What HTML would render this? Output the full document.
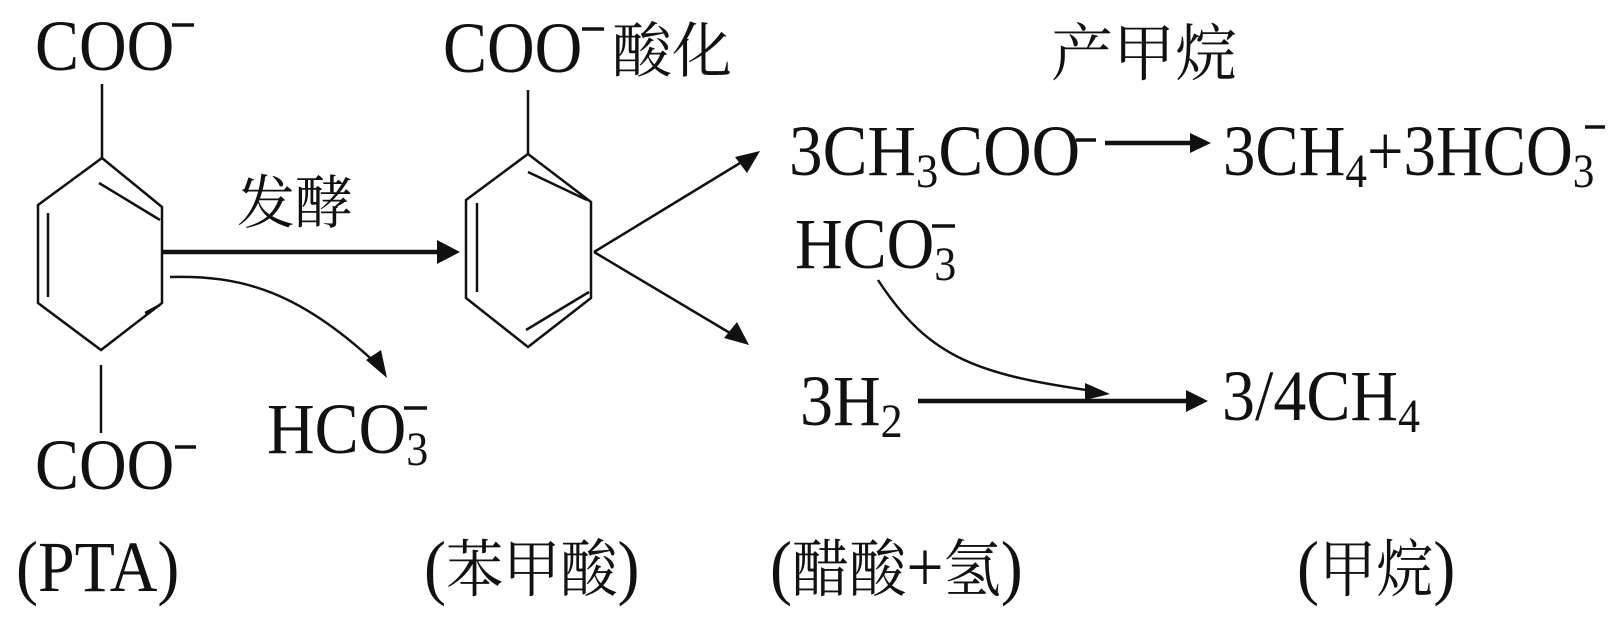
<!DOCTYPE html>
<html><head><meta charset="utf-8"><style>
html,body{margin:0;padding:0;background:#fff;}
svg{display:block;}
text{font-family:"Liberation Serif","Noto Serif CJK SC",serif;fill:#111;}
.c{font-family:"Noto Serif CJK SC","Noto Sans CJK SC",serif;}
</style></head><body>
<svg width="1620" height="625" viewBox="0 0 1620 625" xmlns="http://www.w3.org/2000/svg">
<g stroke="#111" stroke-width="2.5" fill="none">
<polygon points="102,158 162,207 162,303 101,350 38,303 38,205"/>
<line x1="99" y1="183" x2="160" y2="220"/>
<line x1="48" y1="213" x2="48" y2="297"/>
<line x1="145" y1="313" x2="160" y2="305"/>
<line x1="102" y1="84" x2="102" y2="158"/>
<line x1="101" y1="365" x2="101" y2="433"/>
<polygon points="528,154 591,202 591,298 528,347 466,298 466,200"/>
<line x1="477" y1="203" x2="477" y2="292"/>
<line x1="528" y1="172" x2="587" y2="200"/>
<line x1="526" y1="330" x2="589" y2="292"/>
<line x1="528" y1="90" x2="528" y2="154"/>
<line x1="594" y1="252" x2="745" y2="160"/>
<line x1="594" y1="252" x2="735" y2="336"/>
<path d="M170,277 C240,275 300,290 383,370"/>
<path d="M878,280 C930,360 980,375 1100,392"/>
</g>
<g stroke="#111" stroke-width="4.5">
<line x1="162" y1="252" x2="440" y2="252"/>
<line x1="1105" y1="143" x2="1195" y2="143"/>
<line x1="918" y1="401" x2="1190" y2="401"/>
</g>
<g fill="#111">
<polygon points="460,252 437,240 437,264"/>
<polygon points="1211,143 1190,133 1190,153"/>
<polygon points="1208,401 1186,390 1186,412"/>
<polygon points="760,151 735,157 747,173"/>
<polygon points="749,345 737,322 724,338"/>
<polygon points="387,378 366,360 381,350"/>
<polygon points="1110,394 1085,383 1085,400"/>
</g>
<g stroke="#111" stroke-width="3.5">
<line x1="172" y1="25" x2="194" y2="25"/>
<line x1="175" y1="447" x2="196" y2="447"/>
<line x1="404" y1="408" x2="427" y2="408"/>
<line x1="582" y1="29" x2="604" y2="29"/>
<line x1="1076" y1="140" x2="1096" y2="140"/>
<line x1="1585" y1="127" x2="1605" y2="127"/>
<line x1="932" y1="226" x2="955" y2="226"/>
</g>
<g font-size="60">
<text transform="translate(35,70) scale(1.1,1.2)">COO</text>
<text transform="translate(35,489) scale(1.1,1.2)">COO</text>
<text transform="translate(267,453) scale(1.1,1.2)">HCO<tspan font-size="40" dy="10">3</tspan></text>
<text transform="translate(443,72) scale(1.1,1.2)">COO</text>
<text transform="translate(789,175) scale(1.12,1.2)">3CH<tspan font-size="40" dy="10">3</tspan><tspan dy="-10">COO</tspan></text>
<text transform="translate(1223,175) scale(1.08,1.2)">3CH<tspan font-size="40" dy="10">4</tspan><tspan dy="-10">+3HCO</tspan><tspan font-size="40" dy="10">3</tspan></text>
<text transform="translate(795,268) scale(1.1,1.2)">HCO<tspan font-size="40" dy="10">3</tspan></text>
<text transform="translate(800,425) scale(1.1,1.2)">3H<tspan font-size="40" dy="10">2</tspan></text>
<text transform="translate(1222,420) scale(1.1,1.2)">3/4CH<tspan font-size="40" dy="10">4</tspan></text>
<text transform="translate(16,591) scale(1.1,1.2)">(PTA)</text>
<text transform="translate(424,591) scale(1.1,1.2)">(<tspan class="c" font-size="52">苯甲酸</tspan>)</text>
<text transform="translate(770,591) scale(1.1,1.2)">(<tspan class="c" font-size="52">醋酸</tspan>+<tspan class="c" font-size="52">氢</tspan>)</text>
<text transform="translate(1297,591) scale(1.1,1.2)">(<tspan class="c" font-size="52">甲烷</tspan>)</text>
</g>
<text class="c" font-size="60" x="612" y="72">酸化</text>
<text class="c" font-size="58" x="237" y="223">发酵</text>
<text class="c" font-size="62" x="1051" y="75">产甲烷</text>
</svg>
</body></html>
